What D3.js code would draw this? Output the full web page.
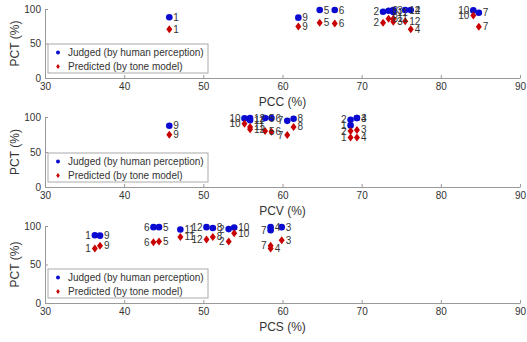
<!DOCTYPE html>
<html>
<head>
<meta charset="utf-8">
<script src="https://cdn.jsdelivr.net/npm/d3@7"></script>
<style>
  body { margin: 0; background: #fff; }
  svg { display: block; font-family: Arial, "Liberation Sans", sans-serif; }
</style>
</head>
<body>
<div id="viz"></div>
<script>
// Sample numbers 1..12, same for all three panels
var items = [1, 2, 3, 4, 5, 6, 7, 8, 9, 10, 11, 12];

// PCT values (y) - judged by people and predicted by the tone model
var judged    = [88, 96, 98.5, 98.5, 98.5, 98.5, 94.5, 97.5, 87.5, 98, 95.5, 98.5];
var predicted = [70.8, 80, 81.5, 70.8, 80, 79, 74.2, 85.8, 74.5, 90.5, 85.8, 82.4];

// x values for each panel
var pcc = [45.7, 72.7, 74.0, 76.2, 64.7, 66.6, 84.8, 73.4, 62.0, 84.1, 74.0, 75.5];
var pcv = [68.6, 68.6, 69.4, 69.4, 57.8, 58.6, 60.6, 61.4, 45.7, 55.2, 55.9, 55.9];
var pcs = [36.3, 53.2, 59.9, 58.5, 44.4, 43.7, 58.5, 51.2, 36.95, 53.9, 47.1, 50.4];

// which sample labels sit on the left of their point
var leftPcc = [2, 10];
var leftPcv = [1, 2, 7, 10];
var leftPcs = [1, 2, 6, 7, 12];

var xTicks = [30, 40, 50, 60, 70, 80, 90];
var yTicks = [0, 50, 100];
var legendNames = ['Judged (by human perception)', 'Predicted (by tone model)'];

var blue = '#0a0ad0', red = '#c80000';

var width = 527, height = 342;
var svg = d3.select('#viz').append('svg')
  .attr('width', width).attr('height', height);

// panel layout: top and bottom pixel of each y axis
var panels = [
  {name: 'PCC (%)', xs: pcc, left: leftPcc, top: 9, bottom: 78},
  {name: 'PCV (%)', xs: pcv, left: leftPcv, top: 117, bottom: 187},
  {name: 'PCS (%)', xs: pcs, left: leftPcs, top: 226, bottom: 303}
];

var x = d3.scaleLinear().domain([30, 90]).range([45, 520]);

function diamond(g, cx, cy, w, h) {
  g.append('path')
    .attr('d', 'M' + cx + ',' + (cy - h) + 'L' + (cx + w) + ',' + cy + 'L' + cx + ',' + (cy + h) + 'L' + (cx - w) + ',' + cy + 'Z')
    .attr('fill', red);
}

panels.forEach(function(p) {
  var y = d3.scaleLinear().domain([0, 100]).range([p.bottom, p.top]);
  var g = svg.append('g');

  // axes, ticks pointing inward
  var xAxis = g.append('g')
    .attr('transform', 'translate(0,' + p.bottom + ')')
    .call(d3.axisBottom(x).tickValues(xTicks).tickSizeInner(-3).tickSizeOuter(0).tickPadding(5));
  var yAxis = g.append('g')
    .attr('transform', 'translate(' + x(30) + ',0)')
    .call(d3.axisLeft(y).tickValues(yTicks).tickSizeInner(-3).tickSizeOuter(0).tickPadding(4));

  [xAxis, yAxis].forEach(function(a) {
    a.select('.domain').attr('stroke', '#999');
    a.selectAll('.tick line').attr('stroke', '#999');
    a.selectAll('.tick text').attr('fill', '#333').style('font-size', '10px');
  });

  g.append('text')
    .attr('x', (x(30) + x(90)) / 2).attr('y', p.bottom + 28)
    .attr('text-anchor', 'middle').attr('fill', '#333')
    .style('font-size', '12px').text(p.name);

  g.append('text')
    .attr('transform', 'translate(19,' + ((p.top + p.bottom) / 2) + ') rotate(-90)')
    .attr('text-anchor', 'middle').attr('fill', '#333')
    .style('font-size', '12px').text('PCT (%)');

  // points
  items.forEach(function(d, i) {
    var px = x(p.xs[i]);
    g.append('circle')
      .attr('cx', px).attr('cy', y(judged[i])).attr('r', 3.3)
      .attr('fill', blue);
    diamond(g, px, y(predicted[i]), 3, 4);
  });

  // sample labels
  items.forEach(function(d, i) {
    var px = x(p.xs[i]);
    var onLeft = p.left.indexOf(d) >= 0;
    [judged[i], predicted[i]].forEach(function(v) {
      g.append('text')
        .attr('x', onLeft ? px - 4 : px + 4)
        .attr('y', y(v)).attr('dy', '0.35em')
        .attr('text-anchor', onLeft ? 'end' : 'start')
        .attr('fill', '#333').style('font-size', '10px')
        .text(d);
    });
  });

  // legend
  var lg = g.append('g').attr('transform', 'translate(' + (x(30) + 3) + ',' + (p.bottom - 34) + ')');
  lg.append('rect')
    .attr('width', 160).attr('height', 29)
    .attr('fill', '#fff').attr('stroke', '#aaa').attr('stroke-width', 1);
  lg.append('circle').attr('cx', 10).attr('cy', 8.5).attr('r', 2).attr('fill', blue);
  diamond(lg, 10, 22.5, 1.8, 2.6);
  legendNames.forEach(function(n, i) {
    lg.append('text')
      .attr('x', 20).attr('y', 8.5 + i * 14).attr('dy', '0.35em')
      .attr('fill', '#333').style('font-size', '10px')
      .text(n);
  });
});
</script>
</body>
</html>
